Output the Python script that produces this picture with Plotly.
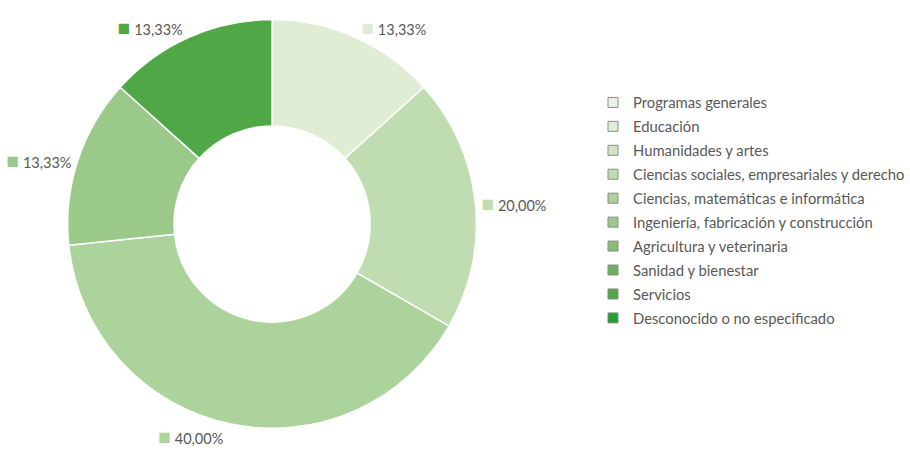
import plotly.graph_objects as go

# Field of study categories and their share (%) of the total
categories = [
    "Programas generales",
    "Educación",
    "Humanidades y artes",
    "Ciencias sociales, empresariales y derecho",
    "Ciencias, matemáticas e informática",
    "Ingeniería, fabricación y construcción",
    "Agricultura y veterinaria",
    "Sanidad y bienestar",
    "Servicios",
    "Desconocido o no especificado",
]
shares = [0, 13.33, 0, 20.00, 40.00, 13.33, 0, 0, 13.33, 0]
palette = [
    "#eaf3e5", "#dfedd5", "#cfe5c2", "#bfddb0", "#acd39b",
    "#9ac98a", "#86bf72", "#6bb25e", "#4fa845", "#23a032",
]

FONT = "Lato"
TEXT_COLOR = "#595959"

# only the non-empty categories become slices
slices = [(c, v, col) for c, v, col in zip(categories, shares, palette) if v > 0]
labels = [s[0] for s in slices]
values = [s[1] for s in slices]
colors = [s[2] for s in slices]
texts = [
    f"<span style='color:{col};font-size:21px'>■</span> " + f"{v:.2f}%".replace(".", ",")
    for _, v, col in slices
]

fig = go.Figure()
fig.add_trace(go.Pie(
    labels=labels,
    values=values,
    text=texts,
    textinfo="text",
    textposition="outside",
    hole=0.48,
    sort=False,
    direction="clockwise",
    rotation=0,
    marker=dict(colors=colors, line=dict(color="white", width=1.5)),
    textfont=dict(family=FONT, size=14.5, color=TEXT_COLOR),
    showlegend=False,
    domain=dict(x=[0.0747, 0.5319], y=[0.0375, 0.9559]),
))

# legend entries for every category, including empty ones
for i, (cat, col) in enumerate(zip(categories, palette)):
    fig.add_trace(go.Scatter(
        x=[-10], y=[-10], mode="markers", name=cat,
        legendgroup=f"g{i}",
        marker=dict(symbol="square", size=10, color=col,
                    line=dict(color="#8c8c8c", width=1)),
        hoverinfo="skip",
    ))

fig.update_layout(
    width=910, height=453,
    margin=dict(l=0, r=0, t=0, b=0),
    paper_bgcolor="white", plot_bgcolor="white",
    xaxis=dict(visible=False, range=[0, 1]),
    yaxis=dict(visible=False, range=[0, 1]),
    legend=dict(
        x=0.6613, y=0.5274, xanchor="left", yanchor="middle",
        font=dict(family=FONT, size=14.8, color=TEXT_COLOR),
        tracegroupgap=1.7, traceorder="grouped",
        bgcolor="rgba(0,0,0,0)",
    ),
)

fig.write_html("out.html")
